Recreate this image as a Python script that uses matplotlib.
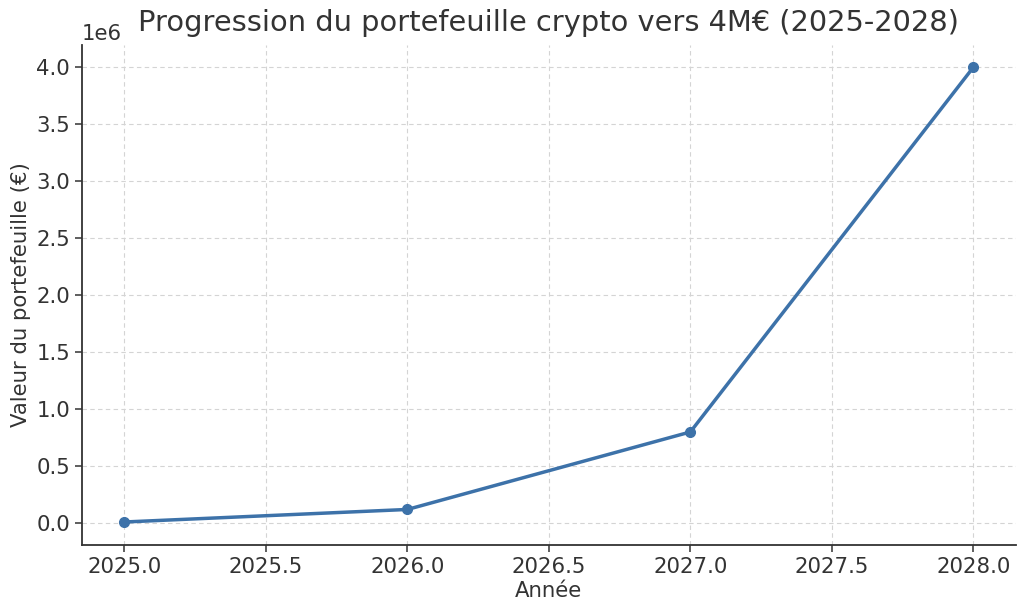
import matplotlib
matplotlib.use("Agg")
import matplotlib.pyplot as plt

years = [2025, 2026, 2027, 2028]
values = [10000, 120000, 800000, 4000000]

plt.rcParams['font.family'] = ['DejaVu Sans']
text_color = '#333333'

fig = plt.figure(figsize=(10.24, 6.10), dpi=100)
ax = fig.add_axes([0.080, 0.107, 0.912, 0.820])

ax.plot(years, values, color='#3d72a9', linewidth=2.5, marker='o', markersize=7)

ax.set_title('Progression du portefeuille crypto vers 4M€ (2025-2028)', fontsize=20.8, color=text_color, pad=10)
ax.set_xlabel('Année', fontsize=15.3, color=text_color, labelpad=3)
ax.set_ylabel('Valeur du portefeuille (€)', fontsize=15.3, color=text_color)

ax.grid(True, linestyle=(0, (4, 3)), color='#d4d4d4', linewidth=0.8)
ax.set_axisbelow(True)
for s in ['top', 'right']:
    ax.spines[s].set_visible(False)
for s in ['left', 'bottom']:
    ax.spines[s].set_color(text_color)
    ax.spines[s].set_linewidth(1.3)
ax.tick_params(axis='both', labelsize=15.3, colors=text_color, length=5, width=1.1)
ax.yaxis.get_offset_text().set_fontsize(15.3)
ax.yaxis.get_offset_text().set_color(text_color)
ax.set_xlim(2024.85, 2028.15)

fig.savefig('out.png', dpi=100)
